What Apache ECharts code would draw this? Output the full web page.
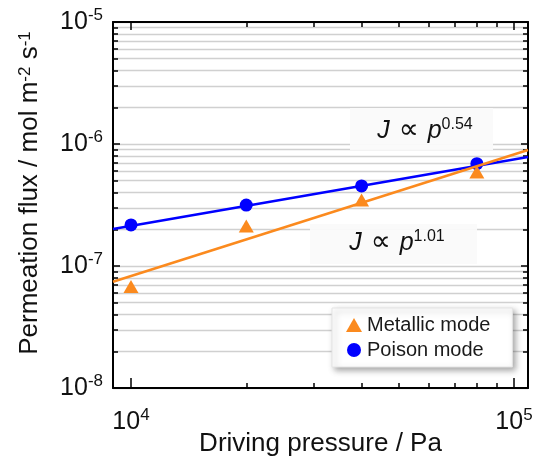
<!DOCTYPE html>
<html>
<head>
<meta charset="utf-8">
<script src="https://cdn.jsdelivr.net/npm/echarts@6/dist/echarts.min.js"></script>
<style>
  html, body { margin: 0; padding: 0; background: #fff; }
  #panel { width: 538px; height: 456px; }
</style>
</head>
<body>
<div id="panel"></div>
<script>
// data
const pressure = [1e4, 2e4, 4e4, 8e4];
const metallicFlux = [6.8e-8, 2.13e-7, 3.48e-7, 5.9e-7];
const poisonFlux = [2.17e-7, 3.16e-7, 4.53e-7, 6.9e-7];
// fitted power-law lines, end points at the plot edges
const fitPressure = [8975, 108800];
const metallicFit = [7.43e-8, 8.93e-7];
const poisonFit = [2.01e-7, 7.82e-7];

const xRange = [8975, 108800];
const yRange = [1e-8, 1e-5];
const xMajor = [1e4, 1e5];
const xMinor = [2e4, 3e4, 4e4, 5e4, 6e4, 7e4, 8e4, 9e4];
const yMajor = [1e-8, 1e-7, 1e-6, 1e-5];
const yMinor = [];
[1e-8, 1e-7, 1e-6].forEach(d => {
  [2, 3, 4, 5, 6, 7, 8, 9].forEach(m => yMinor.push(m * d));
});

const FONT = 'Liberation Sans';
const ORANGE = '#fb8a1e';
const BLUE = '#0000ff';

const powLabel = function (v) {
  const e = Math.round(Math.log10(v));
  return '{b|10}{s|' + e + '}';
};
const powRich = {
  b: { fontSize: 25, fontFamily: FONT, color: '#111', lineHeight: 30 },
  s: { fontSize: 17, fontFamily: FONT, color: '#111', lineHeight: 18, verticalAlign: 'top' },
};

const xAxisOf = (position, ticks, len, main) => ({
  type: 'log',
  position: position,
  min: xRange[0],
  max: xRange[1],
  name: main && position === 'bottom' ? 'Driving pressure / Pa' : '',
  nameLocation: 'middle',
  nameMoveOverlap: false,
  nameGap: 43,
  nameTextStyle: { fontSize: 26, fontFamily: FONT, color: '#111' },
  axisLine: { show: main, lineStyle: { color: '#000', width: 2 } },
  axisTick: { show: true, inside: true, length: len, customValues: ticks, lineStyle: { color: '#000', width: 1.5 } },
  axisLabel: {
    show: main && position === 'bottom',
    customValues: xMajor,
    margin: 19,
    formatter: powLabel,
    rich: powRich,
  },
  splitLine: { show: false },
  minorTick: { show: false },
});

const yAxisOf = (position, ticks, len, main) => ({
  type: 'log',
  position: position,
  min: yRange[0],
  max: yRange[1],
  name: main && position === 'left' ? 'Permeation flux / mol m{s|-2} s{s|-1}' : '',
  nameLocation: 'middle',
  nameGap: 70,
  nameTextStyle: {
    fontSize: 26, fontFamily: FONT, color: '#111', padding: [0, 0, 0, 24],
    rich: { s: { fontSize: 17, fontFamily: FONT, color: '#111', verticalAlign: 'top', lineHeight: 18 } },
  },
  axisLine: { show: main, lineStyle: { color: '#000', width: 2 } },
  axisTick: { show: true, inside: true, length: len, customValues: ticks, lineStyle: { color: '#000', width: 1.5 } },
  axisLabel: {
    show: main && position === 'left',
    customValues: yMajor,
    margin: 10,
    formatter: powLabel,
    rich: powRich,
  },
  splitLine: { show: position === 'left', lineStyle: { color: '#d0d0d0', width: 1.3 } },
  minorTick: { show: false },
});

const pairs = (xs, ys) => xs.map((x, i) => [x, ys[i]]);

const formulaRich = {
  i: { fontSize: 25, fontStyle: 'italic', fontFamily: FONT, fill: '#111', lineHeight: 28 },
  r: { fontSize: 28, fontFamily: 'DejaVu Sans', fill: '#111', lineHeight: 28 },
  s: { fontSize: 16, fontFamily: FONT, fill: '#111', lineHeight: 16, verticalAlign: 'top' },
};

const myChart = echarts.init(document.getElementById('panel'));
const option = {
  backgroundColor: '#fff',
  animation: false,
  grid: { left: 113, right: 10, top: 22, bottom: 68, outerBoundsMode: 'none', containLabel: false },
  xAxis: [
    xAxisOf('bottom', xMajor, 10, true),
    xAxisOf('bottom', xMinor, 5, false),
    xAxisOf('top', xMajor, 8, true),
    xAxisOf('top', xMinor, 5, false),
  ],
  yAxis: [
    yAxisOf('left', yMajor, 7, true),
    yAxisOf('left', yMinor, 5, false),
    yAxisOf('right', yMajor, 7, true),
    yAxisOf('right', yMinor, 5, false),
  ],
  legend: {
    orient: 'vertical',
    left: 332,
    top: 308,
    padding: [7, 22, 7, 14],
    itemGap: 5,
    itemWidth: 16,
    itemHeight: 14,
    backgroundColor: '#fff',
    borderColor: '#e4e4e4',
    borderWidth: 1,
    shadowColor: 'rgba(0,0,0,0.35)',
    shadowBlur: 6,
    shadowOffsetX: 3,
    shadowOffsetY: 3,
    textStyle: { fontSize: 20, fontFamily: FONT, color: '#1a1a1a' },
    data: [
      { name: 'Metallic mode', icon: 'triangle' },
      { name: 'Poison mode', icon: 'circle' },
    ],
  },
  graphic: [
    { type: 'rect', shape: { x: 350, y: 108, width: 143, height: 42 }, style: { fill: 'rgba(250,250,250,0.94)' }, z: 3 },
    { type: 'rect', shape: { x: 310, y: 224, width: 167, height: 40 }, style: { fill: 'rgba(250,250,250,0.94)' }, z: 3 },
    {
      type: 'text', x: 425, y: 131, z: 4,
      style: { text: '{i|J}{r| ∝ }{i|p}{s|0.54}', align: 'center', verticalAlign: 'middle', rich: formulaRich },
    },
    {
      type: 'text', x: 397, y: 243, z: 4,
      style: { text: '{i|J}{r| ∝ }{i|p}{s|1.01}', align: 'center', verticalAlign: 'middle', rich: formulaRich },
    },
  ],
  series: [
    {
      name: 'Poison fit',
      type: 'line',
      data: pairs(fitPressure, poisonFit),
      showSymbol: false,
      lineStyle: { color: BLUE, width: 2.5 },
      z: 5,
    },
    {
      name: 'Poison mode',
      type: 'scatter',
      data: pairs(pressure, poisonFlux),
      symbol: 'circle',
      symbolSize: 13,
      itemStyle: { color: BLUE, opacity: 1 },
      z: 6,
    },
    {
      name: 'Metallic fit',
      type: 'line',
      data: pairs(fitPressure, metallicFit),
      showSymbol: false,
      lineStyle: { color: ORANGE, width: 2.5 },
      z: 7,
    },
    {
      name: 'Metallic mode',
      type: 'scatter',
      data: pairs(pressure, metallicFlux),
      symbol: 'triangle',
      symbolSize: [15, 13],
      itemStyle: { color: ORANGE, opacity: 1 },
      z: 8,
    },
  ],
};
myChart.setOption(option);
</script>
</body>
</html>
